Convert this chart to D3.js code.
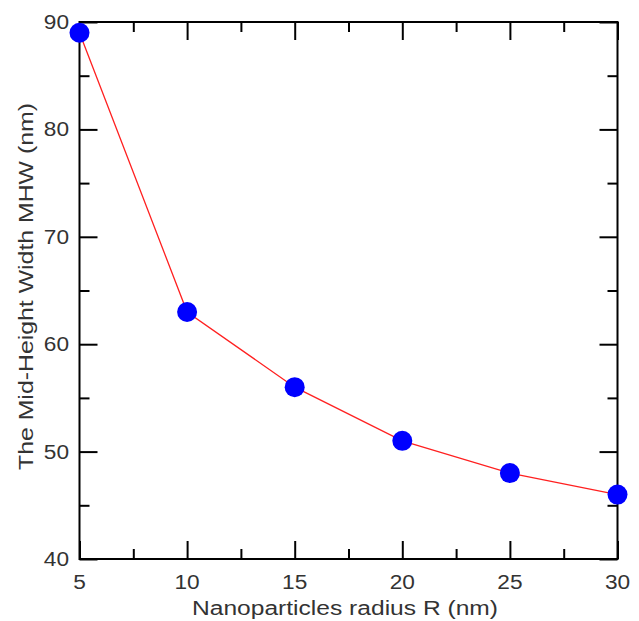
<!DOCTYPE html>
<html><head><meta charset="utf-8">
<script src="https://cdn.jsdelivr.net/npm/d3@7"></script>
<style>body{margin:0;background:#fff}svg{display:block}text{font-family:"Liberation Sans",Arial,sans-serif;fill:#333}</style>
</head><body><svg id="c" width="639" height="621"></svg>
<script>
const radius = [5, 10, 15, 20, 25, 30];
const mhw = [89, 63, 56, 51, 48, 46];
const xTicks = [5, 10, 15, 20, 25, 30];
const yTicks = [40, 50, 60, 70, 80, 90];
const xMinor = [7.5, 12.5, 17.5, 22.5, 27.5];
const yMinor = [45, 55, 65, 75, 85];

const L = 79.5, R = 617.5, T = 22, B = 559;
const svg = d3.select("#c");
const x = d3.scaleLinear().domain([5, 30]).range([L, R]);
const y = d3.scaleLinear().domain([40, 90]).range([B, T]);

function tickAxis(axisFn, scale, ticks, len, pos) {
  const a = axisFn(scale).tickValues(ticks).tickSizeInner(-len).tickSizeOuter(0).tickFormat("");
  const g = svg.append("g").attr("transform", pos).call(a);
  g.select(".domain").remove();
  g.selectAll(".tick line").attr("stroke", "#000").attr("stroke-width", 2);
  g.selectAll(".tick text").remove();
  return g;
}
tickAxis(d3.axisBottom, x, xTicks, 18, `translate(0,${B})`);
tickAxis(d3.axisBottom, x, xMinor, 10, `translate(0,${B})`);
tickAxis(d3.axisTop, x, xTicks, 18, `translate(0,${T})`);
tickAxis(d3.axisTop, x, xMinor, 10, `translate(0,${T})`);
tickAxis(d3.axisLeft, y, yTicks, 18, `translate(${L},0)`);
tickAxis(d3.axisLeft, y, yMinor, 10, `translate(${L},0)`);
tickAxis(d3.axisRight, y, yTicks, 18, `translate(${R},0)`);
tickAxis(d3.axisRight, y, yMinor, 10, `translate(${R},0)`);

// tick labels
const fmt = d3.format("d");
svg.append("g").selectAll("text").data(xTicks).join("text")
  .attr("x", d => x(d)).attr("y", 589).attr("text-anchor", "middle")
  .attr("font-size", 20).attr("textLength", d => fmt(d).length * 12.6).attr("lengthAdjust", "spacingAndGlyphs")
  .text(fmt);
svg.append("g").selectAll("text").data(yTicks).join("text")
  .attr("x", 69).attr("y", d => y(d) + 7).attr("text-anchor", "end")
  .attr("font-size", 20).attr("textLength", d => fmt(d).length * 12.6).attr("lengthAdjust", "spacingAndGlyphs")
  .text(fmt);

svg.append("rect").attr("x", L).attr("y", T).attr("width", R - L).attr("height", B - T)
  .attr("fill", "none").attr("stroke", "#000").attr("stroke-width", 2);

const data = radius.map((r, i) => ({ r, v: mhw[i] }));
svg.append("path").datum(data)
  .attr("d", d3.line().x(d => x(d.r)).y(d => y(d.v)))
  .attr("fill", "none").attr("stroke", "#ff2020").attr("stroke-width", 1.3);
svg.selectAll("circle.pt").data(data).join("circle")
  .attr("cx", d => x(d.r)).attr("cy", d => y(d.v)).attr("r", 10).attr("fill", "#0000ff");

svg.append("text").attr("x", 345).attr("y", 615).attr("text-anchor", "middle")
  .attr("font-size", 20).attr("textLength", 306).attr("lengthAdjust", "spacingAndGlyphs")
  .text("Nanoparticles radius R (nm)");
svg.append("text").attr("transform", `translate(33,286.5) rotate(-90)`).attr("text-anchor", "middle")
  .attr("font-size", 21).attr("textLength", 367).attr("lengthAdjust", "spacingAndGlyphs")
  .text("The Mid-Height Width MHW (nm)");
</script></body></html>
